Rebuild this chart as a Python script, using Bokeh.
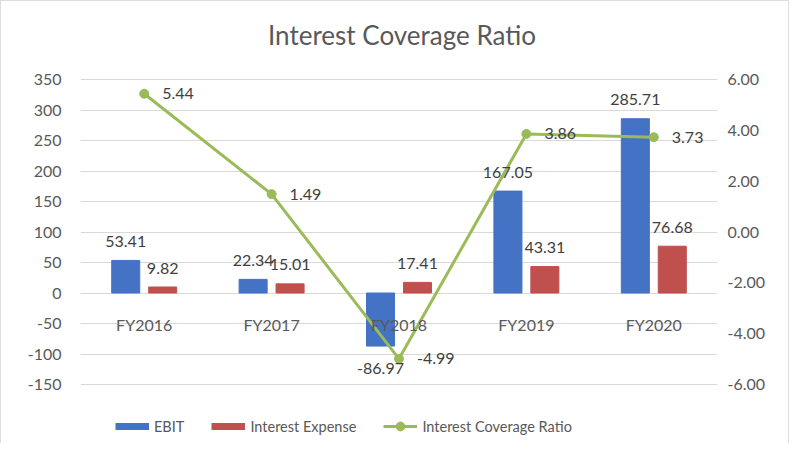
from bokeh.plotting import figure
from bokeh.models import (ColumnDataSource, FactorRange, Range1d, LinearAxis, Label,
                          FixedTicker, Legend, LegendItem, CustomJSTickFormatter)
from bokeh.transform import dodge
from bokeh.core.properties import value
from bokeh.embed import file_html
from bokeh.resources import INLINE

# ---- data ----
chart_title = "Interest Coverage Ratio"
categories = ["FY2016", "FY2017", "FY2018", "FY2019", "FY2020"]
ebit = [53.41, 22.34, -86.97, 167.05, 285.71]
interest_expense = [9.82, 15.01, 17.41, 43.31, 76.68]
coverage_ratio = [5.44, 1.49, -4.99, 3.86, 3.73]
left_ticks = [-150, -100, -50, 0, 50, 100, 150, 200, 250, 300, 350]
right_ticks = [-6, -4, -2, 0, 2, 4, 6]
series_names = ["EBIT", "Interest Expense", "Interest Coverage Ratio"]

FONT = "Lato"
TXT = "#595959"
LBL = "#404040"
BLUE = "#4472C4"
RED = "#C0504D"
GREEN = "#9BBB59"
GRID = "#D9D9D9"

# ---- layout constants (pixels) ----
W, H = 789, 443
LEFT, RIGHT = 79, 73
TOP_PX = 78                       # from canvas top to the top tick line
AXIS_PX = 305                     # pixel height of the tick span
FRAME_W = W - LEFT - RIGHT
FRAME_H = H                       # frame covers full height: title & legend live inside
lo_scale = (FRAME_H - TOP_PX - AXIS_PX) / AXIS_PX
hi_scale = TOP_PX / AXIS_PX
lspan = left_ticks[-1] - left_ticks[0]
rspan = right_ticks[-1] - right_ticks[0]
y_lo, y_hi = left_ticks[0] - lspan * lo_scale, left_ticks[-1] + lspan * hi_scale
r_lo, r_hi = right_ticks[0] - rspan * lo_scale, right_ticks[-1] + rspan * hi_scale

src = ColumnDataSource(dict(
    cat=categories,
    ebit=ebit,
    ie=interest_expense,
    ratio=coverage_ratio,
    ebit_txt=[f"{v:.2f}" for v in ebit],
    ie_txt=[f"{v:.2f}" for v in interest_expense],
    ratio_txt=[f"{v:.2f}" for v in coverage_ratio],
    ebit_off=[-19 if v >= 0 else 22 for v in ebit],
    ie_off=[-19 if v >= 0 else 22 for v in interest_expense],
    zero=[0] * len(categories),
))

p = figure(x_range=FactorRange(*categories), y_range=Range1d(y_lo, y_hi),
           width=W, height=H, output_backend="svg", toolbar_location=None,
           min_border_left=LEFT, min_border_right=RIGHT, min_border_top=0,
           min_border_bottom=0)
p.styles = {"border-left": "1px solid #DDDDDD", "border-top": "1px solid #DDDDDD",
            "border-right": "1px solid #DDDDDD"}
p.outline_line_color = None
p.background_fill_color = "white"
p.border_fill_color = "white"

p.add_layout(Label(x=FRAME_W / 2 + 3, y=FRAME_H - 33, x_units="screen", y_units="screen",
                   text=chart_title, text_align="center", text_baseline="middle",
                   text_font=FONT, text_font_size="26px", text_color=TXT))

p.extra_y_ranges = {"ratio": Range1d(r_lo, r_hi),
                    # far-away range: legend swatch proxies are drawn out of view
                    "proxy": Range1d(1e9, 1e9 + 1)}

p.xaxis.visible = False
p.xgrid.visible = False
p.ygrid.ticker = FixedTicker(ticks=left_ticks)
p.ygrid.grid_line_color = GRID

la = p.yaxis[0]
la.ticker = FixedTicker(ticks=left_ticks)
la.formatter = CustomJSTickFormatter(code="return tick.toFixed(0);")
ra = LinearAxis(y_range_name="ratio", ticker=FixedTicker(ticks=right_ticks),
                formatter=CustomJSTickFormatter(code="return tick.toFixed(2);"))
p.add_layout(ra, "right")
for ax, so in ((la, 13), (ra, 4)):
    ax.axis_line_color = None
    ax.major_tick_line_color = None
    ax.minor_tick_line_color = None
    ax.major_label_text_font = FONT
    ax.major_label_text_font_size = "16px"
    ax.major_label_text_color = TXT
    ax.major_label_standoff = so

b1 = p.vbar(x=dodge("cat", -0.145, range=p.x_range), top="ebit", width=0.22,
            source=src, color=BLUE)
b2 = p.vbar(x=dodge("cat", 0.145, range=p.x_range), top="ie", width=0.22,
            source=src, color=RED)
ln = p.line(x="cat", y="ratio", source=src, y_range_name="ratio",
            line_color=GREEN, line_width=3)
mk = p.scatter(x="cat", y="ratio", source=src, y_range_name="ratio",
               size=9, color=GREEN)

# legend swatches: flat bar keys drawn as thick lines on an out-of-view range
sw1 = p.line(x="cat", y="ebit", source=src, y_range_name="proxy",
             line_color=BLUE, line_width=7, line_cap="butt")
sw2 = p.line(x="cat", y="ie", source=src, y_range_name="proxy",
             line_color=RED, line_width=7, line_cap="butt")

common = dict(text_font=value(FONT), text_font_size="16px", text_color=LBL,
              text_baseline="middle", source=src)
p.text(x="cat", y="zero", text="cat", y_offset=31, text_align="center",
       **{**common, "text_color": TXT})
p.text(x=dodge("cat", -0.145, range=p.x_range), y="ebit", text="ebit_txt",
       y_offset="ebit_off", text_align="center", **common)
p.text(x=dodge("cat", 0.145, range=p.x_range), y="ie", text="ie_txt",
       y_offset="ie_off", text_align="center", **common)
p.text(x="cat", y="ratio", text="ratio_txt", y_range_name="ratio",
       x_offset=18, text_align="left", **common)

legend = Legend(items=[LegendItem(label=series_names[0], renderers=[sw1]),
                       LegendItem(label=series_names[1], renderers=[sw2]),
                       LegendItem(label=series_names[2], renderers=[ln, mk])],
                orientation="horizontal", location=(35, 7),
                glyph_width=34, glyph_height=22, label_standoff=5, spacing=27,
                padding=0, margin=0, border_line_color=None,
                background_fill_alpha=0,
                label_text_font=FONT, label_text_font_size="14.5px",
                label_text_color=TXT)
p.add_layout(legend)

open("out.html", "w").write(file_html(p, INLINE))
